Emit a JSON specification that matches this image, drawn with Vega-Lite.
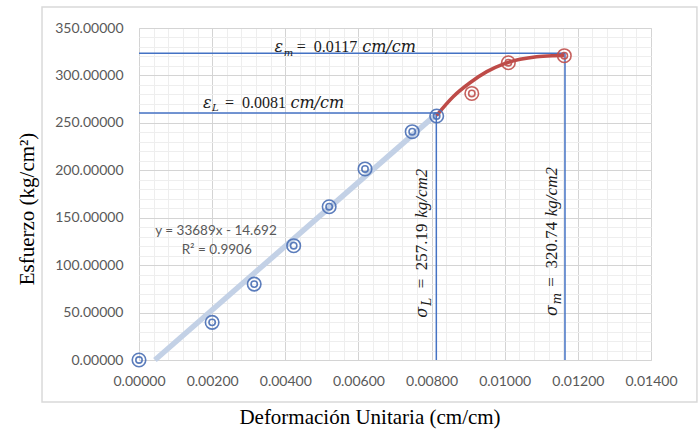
{
  "$schema": "https://vega.github.io/schema/vega-lite/v6.json",
  "width": 512,
  "height": 332,
  "autosize": "none",
  "padding": {"left": 139, "top": 28, "right": 49, "bottom": 69},
  "background": "white",
  "config": {"view": {"stroke": "#d9d9d9", "strokeWidth": 1}},
  "datasets": {
    "frame": [{"x": -0.002652, "x2": 0.015256, "y": 372.1, "y2": -44.3}],
    "pts": [
      {"x": 0, "y": 0, "g": "lin"},
      {"x": 0.002, "y": 39.7, "g": "lin"},
      {"x": 0.00315, "y": 80, "g": "lin"},
      {"x": 0.00423, "y": 120.5, "g": "lin"},
      {"x": 0.0052, "y": 161.6, "g": "lin"},
      {"x": 0.00618, "y": 201.4, "g": "lin"},
      {"x": 0.00747, "y": 240.7, "g": "lin"},
      {"x": 0.00814, "y": 257.2, "g": "lin"},
      {"x": 0.0091, "y": 281, "g": "plast"},
      {"x": 0.0101, "y": 313.4, "g": "plast"},
      {"x": 0.01163, "y": 320.8, "g": "plast"}
    ],
    "trend": [{"x": 0.000436, "y": 0}, {"x": 0.00814, "y": 259.5}],
    "curve": [
      {"x": 0.00814, "y": 258},
      {"x": 0.00859, "y": 277.6},
      {"x": 0.00905, "y": 292.3},
      {"x": 0.00951, "y": 304},
      {"x": 0.00996, "y": 312},
      {"x": 0.01042, "y": 317},
      {"x": 0.01087, "y": 319.8},
      {"x": 0.01133, "y": 320.8},
      {"x": 0.01163, "y": 321}
    ],
    "refs": [
      {"x": 0, "x2": 0.011648, "y": 323.5, "y2": 323.5},
      {"x": 0.011648, "x2": 0.011648, "y": 323.5, "y2": 0},
      {"x": 0, "x2": 0.00813, "y": 260.4, "y2": 260.4},
      {"x": 0.00813, "x2": 0.00813, "y": 260.4, "y2": 0}
    ],
    "eq": [
      {"x": 0.002105, "y": 136.3, "t": "y = 33689x - 14.692"},
      {"x": 0.002124, "y": 116.0, "t": "R² = 0.9906"}
    ],
    "ann": [
      {"x": 0.004312, "y": 324.4, "sym": "ε", "sub": "m", "val": "= \u00a00.0117", "unit": "cm/cm", "o": "h"},
      {"x": 0.002351, "y": 266.0, "sym": "ε", "sub": "L", "val": "= \u00a00.0081", "unit": "cm/cm", "o": "h"},
      {"x": 0.007866, "y": 75.6, "sym": "σ", "sub": "L", "val": "= \u00a0257.19", "unit": "kg/cm2", "o": "v"},
      {"x": 0.01142, "y": 77.3, "sym": "σ", "sub": "m", "val": "= \u00a0320.74", "unit": "kg/cm2", "o": "v"}
    ]
  },
  "encoding": {
    "x": {
      "field": "x",
      "type": "quantitative",
      "scale": {"domain": [0, 0.014], "nice": false, "zero": false},
      "axis": {
        "values": [0, 0.0004, 0.0008, 0.0012, 0.0016, 0.002, 0.0024, 0.0028, 0.0032, 0.0036, 0.004, 0.0044, 0.0048, 0.0052, 0.0056, 0.006, 0.0064, 0.0068, 0.0072, 0.0076, 0.008, 0.0084, 0.0088, 0.0092, 0.0096, 0.01, 0.0104, 0.0108, 0.0112, 0.0116, 0.012, 0.0124, 0.0128, 0.0132, 0.0136, 0.014],
        "labelExpr": "abs(datum.value*500 - round(datum.value*500)) < 0.001 ? format(datum.value, '.5f') : ''",
        "labelOverlap": false,
        "labelFlush": false,
        "labelBound": false,
        "labelFont": "Lato",
        "labelFontSize": 14,
        "labelColor": "#595959",
        "labelPadding": 14,
        "ticks": false,
        "domain": false,
        "grid": true,
        "gridColor": {"condition": {"test": "abs(datum.value*500 - round(datum.value*500)) < 0.001", "value": "#d4d4d4"}, "value": "#eeeeee"},
        "title": "Deformación Unitaria (cm/cm)",
        "titleFont": "Liberation Serif",
        "titleFontSize": 21,
        "titleFontWeight": "normal",
        "titleColor": "#000000",
        "titleX": 230.5,
        "titleY": 63,
        "titleBaseline": "alphabetic",
        "titleAlign": "center"
      }
    },
    "y": {
      "field": "y",
      "type": "quantitative",
      "scale": {"domain": [0, 350], "nice": false, "zero": false},
      "axis": {
        "values": [0, 10, 20, 30, 40, 50, 60, 70, 80, 90, 100, 110, 120, 130, 140, 150, 160, 170, 180, 190, 200, 210, 220, 230, 240, 250, 260, 270, 280, 290, 300, 310, 320, 330, 340, 350],
        "labelExpr": "datum.value % 50 === 0 ? format(datum.value, '.5f') : ''",
        "labelOverlap": false,
        "labelFlush": false,
        "labelBound": false,
        "labelFont": "Lato",
        "labelFontSize": 14,
        "labelColor": "#595959",
        "labelPadding": 16,
        "ticks": false,
        "domain": false,
        "grid": true,
        "gridColor": {"condition": {"test": "datum.value % 50 === 0", "value": "#d4d4d4"}, "value": "#eeeeee"},
        "title": "Esfuerzo (kg/cm²)",
        "titleFont": "Liberation Serif",
        "titleFontSize": 21,
        "titleFontWeight": "normal",
        "titleColor": "#000000",
        "titleX": -106,
        "titleY": 180.5,
        "titleAngle": 270,
        "titleBaseline": "alphabetic",
        "titleAlign": "center"
      }
    }
  },
  "layer": [
    {
      "data": {"name": "frame"},
      "mark": {"type": "rect", "fill": "transparent", "stroke": "#d9d9d9", "strokeWidth": 1.5},
      "encoding": {"x2": {"field": "x2"}, "y2": {"field": "y2"}}
    },
    {
      "data": {"name": "trend"},
      "mark": {"type": "line", "color": "#c3d1e6", "strokeWidth": 5.5}
    },
    {
      "data": {"name": "refs"},
      "mark": {"type": "rule", "color": "#4472c4", "strokeWidth": 1.5},
      "encoding": {"x2": {"field": "x2"}, "y2": {"field": "y2"}}
    },
    {
      "data": {"name": "curve"},
      "mark": {"type": "line", "color": "#be4b48", "strokeWidth": 3.5, "interpolate": "monotone"}
    },
    {
      "data": {"name": "pts"},
      "mark": {"type": "point", "shape": "circle", "filled": false, "size": 182, "strokeWidth": 1.6, "opacity": 0.9},
      "encoding": {"color": {"field": "g", "type": "nominal", "scale": {"domain": ["lin", "plast"], "range": ["#4a6fb5", "#c0504d"]}, "legend": null}}
    },
    {
      "data": {"name": "pts"},
      "mark": {"type": "point", "shape": "circle", "filled": false, "size": 40, "strokeWidth": 1.6, "opacity": 0.9},
      "encoding": {"color": {"field": "g", "type": "nominal", "scale": {"domain": ["lin", "plast"], "range": ["#4a6fb5", "#c0504d"]}, "legend": null}}
    },
    {
      "data": {"name": "eq"},
      "mark": {"type": "text", "font": "Lato", "fontSize": 13.5, "color": "#595959", "align": "center", "baseline": "middle"},
      "encoding": {"text": {"field": "t"}}
    },
    {
      "data": {"name": "ann"},
      "transform": [{"filter": "datum.o === 'h'"}],
      "mark": {"type": "text", "font": "DejaVu Serif", "fontStyle": "italic", "fontSize": 16, "color": "#1a1a1a", "align": "right", "baseline": "alphabetic", "dx": -13.5},
      "encoding": {"text": {"field": "sym"}}
    },
    {
      "data": {"name": "ann"},
      "transform": [{"filter": "datum.o === 'h'"}],
      "mark": {"type": "text", "font": "DejaVu Serif", "fontStyle": "italic", "fontSize": 10, "color": "#1a1a1a", "align": "left", "baseline": "alphabetic", "dx": -13, "dy": 3.5},
      "encoding": {"text": {"field": "sub"}}
    },
    {
      "data": {"name": "ann"},
      "transform": [{"filter": "datum.o === 'h'"}],
      "mark": {"type": "text", "font": "Liberation Serif", "fontSize": 16, "color": "#1a1a1a", "align": "left", "baseline": "alphabetic"},
      "encoding": {"text": {"field": "val"}}
    },
    {
      "data": {"name": "ann"},
      "transform": [{"filter": "datum.o === 'h'"}],
      "mark": {"type": "text", "font": "DejaVu Serif", "fontStyle": "italic", "fontSize": 16, "color": "#1a1a1a", "align": "left", "baseline": "alphabetic", "dx": 65.5},
      "encoding": {"text": {"field": "unit"}}
    },
    {
      "data": {"name": "ann"},
      "transform": [{"filter": "datum.o === 'v'"}],
      "mark": {"type": "text", "angle": 270, "font": "DejaVu Serif", "fontStyle": "italic", "fontSize": 16, "color": "#1a1a1a", "align": "right", "baseline": "alphabetic", "dx": -18.5},
      "encoding": {"text": {"field": "sym"}}
    },
    {
      "data": {"name": "ann"},
      "transform": [{"filter": "datum.o === 'v'"}],
      "mark": {"type": "text", "angle": 270, "font": "DejaVu Serif", "fontStyle": "italic", "fontSize": 12, "color": "#1a1a1a", "align": "left", "baseline": "alphabetic", "dx": -17.5, "dy": 4},
      "encoding": {"text": {"field": "sub"}}
    },
    {
      "data": {"name": "ann"},
      "transform": [{"filter": "datum.o === 'v'"}],
      "mark": {"type": "text", "angle": 270, "font": "Liberation Serif", "fontSize": 17, "color": "#1a1a1a", "align": "left", "baseline": "alphabetic"},
      "encoding": {"text": {"field": "val"}}
    },
    {
      "data": {"name": "ann"},
      "transform": [{"filter": "datum.o === 'v'"}],
      "mark": {"type": "text", "angle": 270, "font": "Liberation Serif", "fontStyle": "italic", "fontSize": 17, "color": "#1a1a1a", "align": "left", "baseline": "alphabetic", "dx": 70.5},
      "encoding": {"text": {"field": "unit"}}
    }
  ]
}
